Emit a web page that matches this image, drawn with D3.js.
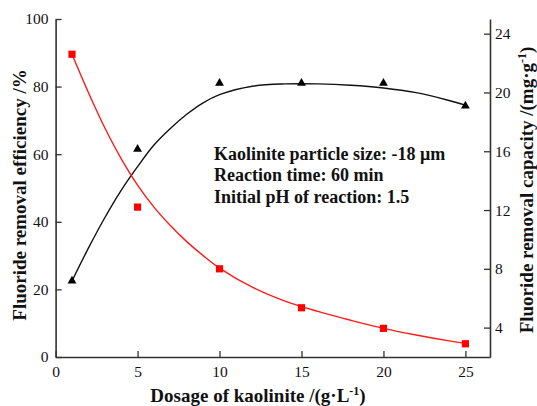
<!DOCTYPE html>
<html>
<head>
<meta charset="utf-8">
<script src="https://cdn.jsdelivr.net/npm/d3@7"></script>
<style>
  html, body { margin: 0; padding: 0; background: #fff; }
  svg { display: block; }
  text { font-family: "Liberation Serif", "Times New Roman", serif; fill: #111; }
</style>
</head>
<body>
<svg id="chart" width="537" height="406"></svg>
<script>
// Measured dosages (g/L)
const dosage = [1, 5, 10, 15, 20, 25];
// Fluoride removal efficiency (%), left axis
const efficiency = [22.5, 61.5, 81.0, 81.0, 81.0, 74.3];
// Fluoride removal capacity (mg/g), right axis
const capacity = [22.6, 12.2, 8.0, 5.35, 3.95, 2.9];

// Fitted trend curves
const fitX = [1, 2, 3, 4, 5, 6, 7, 8, 9, 10, 12, 14, 16, 18, 20, 22, 24, 25];
const effFit = [22.5, 32.2, 41.2, 49.3, 56.3, 62.7, 67.6, 71.8, 75.2, 77.6, 80.1, 80.8, 80.8, 80.4, 79.6, 78.2, 75.9, 74.5];
const capFit = [22.6, 20.0, 17.6, 15.5, 13.7, 12.2, 10.95, 9.85, 8.9, 8.05, 6.75, 5.8, 5.1, 4.5, 3.95, 3.5, 3.1, 2.93];

const xTicks = [0, 5, 10, 15, 20, 25];
const leftTicks = [0, 20, 40, 60, 80, 100];
const rightTicks = [4, 8, 12, 16, 20, 24];

const notes = [
  "Kaolinite particle size: -18 \u03BCm",
  "Reaction time: 60 min",
  "Initial pH of reaction: 1.5"
];

const svg = d3.select("#chart");
const L = 55.6, R = 490, T = 19, B = 357;

const x = d3.scaleLinear().domain([0, 26.5]).range([L, R]);
const yL = d3.scaleLinear().domain([0, 100]).range([B, T]);
const yR = d3.scaleLinear().domain([2, 25]).range([B, T]);

function styleAxis(g) {
  g.select(".domain").attr("stroke", "#333").attr("stroke-width", 1.6);
  g.selectAll(".tick line").attr("stroke", "#333").attr("stroke-width", 1.3);
  g.selectAll(".tick text").attr("font-size", 15.5).attr("fill", "#222")
    .style("font-family", "'Liberation Serif', serif");
}

svg.append("g")
  .attr("transform", `translate(0,${B})`)
  .call(d3.axisBottom(x).tickValues(xTicks).tickSizeInner(-6).tickSizeOuter(0).tickPadding(9))
  .call(styleAxis);

svg.append("g")
  .attr("transform", `translate(${L},0)`)
  .call(d3.axisLeft(yL).tickValues(leftTicks).tickSizeInner(-6).tickSizeOuter(0).tickPadding(7))
  .call(styleAxis);

svg.append("g")
  .attr("transform", `translate(${R},0)`)
  .call(d3.axisRight(yR).tickValues(rightTicks).tickSizeInner(-6).tickSizeOuter(0).tickPadding(5))
  .call(styleAxis);

// Trend curves
const effLine = d3.line().x((d, i) => x(fitX[i])).y(d => yL(d)).curve(d3.curveCatmullRom);
const capLine = d3.line().x((d, i) => x(fitX[i])).y(d => yR(d)).curve(d3.curveCatmullRom);

svg.append("path").attr("d", effLine(effFit))
  .attr("fill", "none").attr("stroke", "#111").attr("stroke-width", 1.4);
svg.append("path").attr("d", capLine(capFit))
  .attr("fill", "none").attr("stroke", "#ff1a1a").attr("stroke-width", 1.4);

// Markers
svg.append("g").selectAll("path").data(efficiency).join("path")
  .attr("d", d3.symbol(d3.symbolTriangle, 34))
  .attr("transform", (d, i) => `translate(${x(dosage[i])},${yL(d)})`)
  .attr("fill", "#000");

svg.append("g").selectAll("path").data(capacity).join("path")
  .attr("d", d3.symbol(d3.symbolSquare, 52))
  .attr("transform", (d, i) => `translate(${x(dosage[i])},${yR(d)})`)
  .attr("fill", "#f00");

// Experimental conditions
svg.append("g").selectAll("text").data(notes).join("text")
  .attr("x", 214)
  .attr("y", (d, i) => 160 + i * 21.3)
  .attr("font-size", 18)
  .attr("font-weight", "bold")
  .text(d => d);

// Axis titles
const xt = svg.append("text")
  .attr("x", 258).attr("y", 402)
  .attr("text-anchor", "middle")
  .attr("font-size", 19).attr("font-weight", "bold");
xt.append("tspan").text("Dosage of kaolinite /(g\u00B7L");
xt.append("tspan").attr("dy", -7).attr("font-size", 12).text("-1");
xt.append("tspan").attr("dy", 7).text(")");

svg.append("text")
  .attr("transform", "translate(26,195) rotate(-90)")
  .attr("text-anchor", "middle")
  .attr("font-size", 19).attr("font-weight", "bold")
  .text("Fluoride removal efficiency /%");

const rt = svg.append("text")
  .attr("transform", "translate(533,190) rotate(-90)")
  .attr("text-anchor", "middle")
  .attr("font-size", 19).attr("font-weight", "bold");
rt.append("tspan").text("Fluoride removal capacity /(mg\u00B7g");
rt.append("tspan").attr("dy", -7).attr("font-size", 12).text("-1");
rt.append("tspan").attr("dy", 7).text(")");
</script>
</body>
</html>
